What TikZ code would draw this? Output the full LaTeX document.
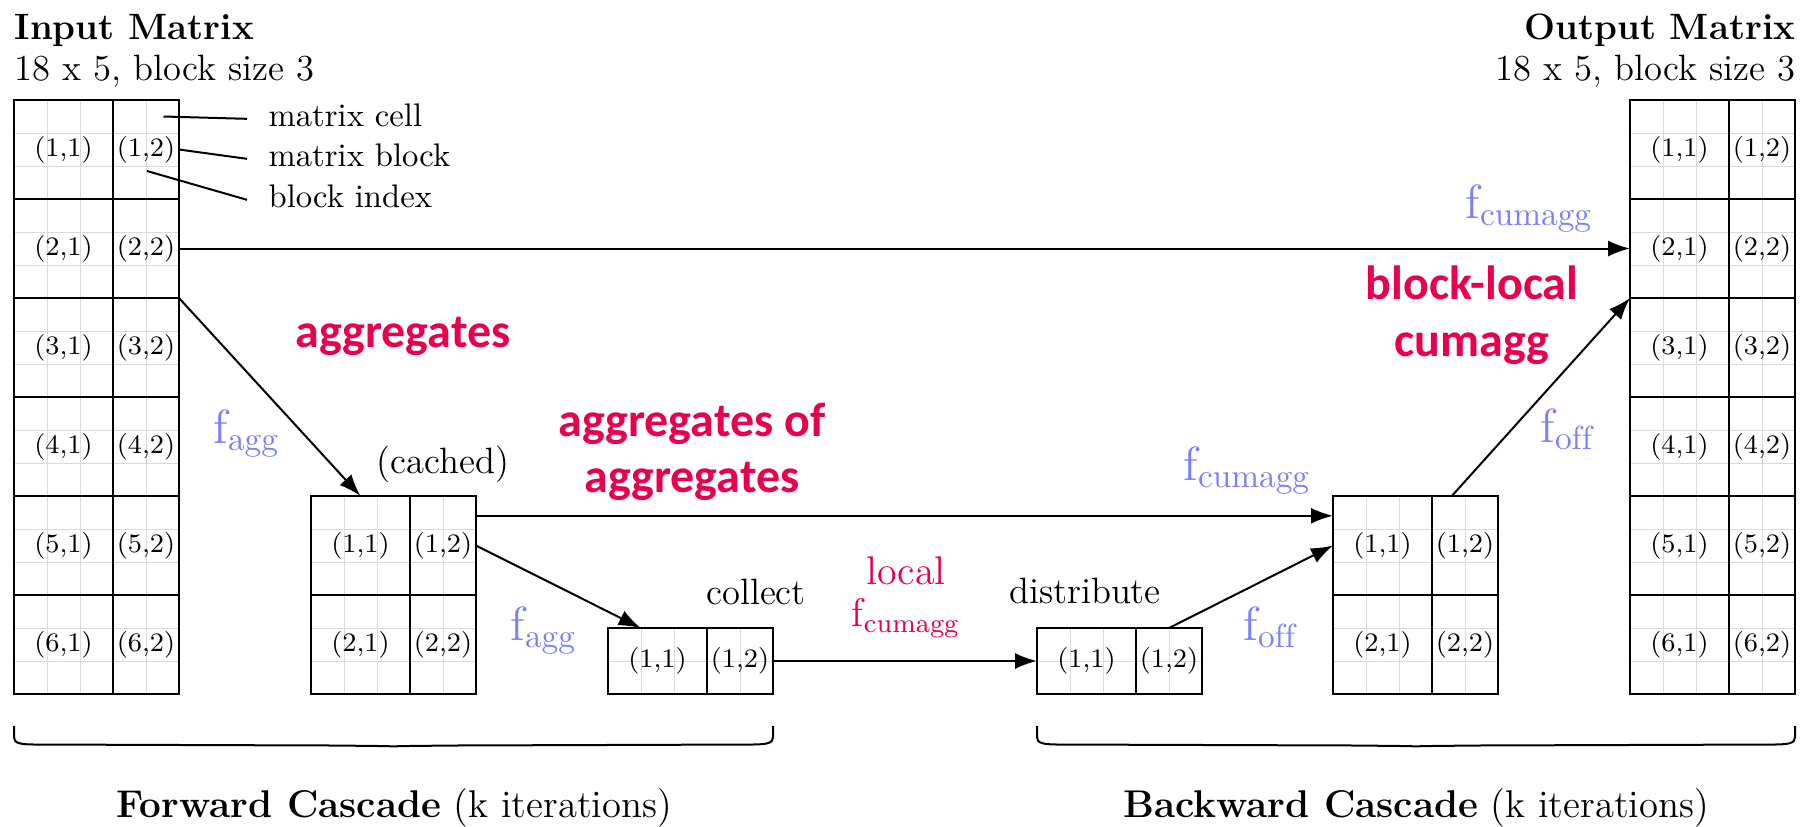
\documentclass[tikz,border=0pt]{standalone}
\usepackage{fontspec}
\newfontfamily\calibrifont{Carlito}
\usetikzlibrary{arrows.meta,calc}

\definecolor{fblue}{RGB}{122,128,250}
\definecolor{hotred}{RGB}{232,0,78}
\definecolor{gridgray}{RGB}{218,218,218}

\tikzset{
  gridline/.style={draw=gridgray, line width=0.3pt},
  blk/.style={draw=black, line width=0.6pt, inner sep=0pt, outer sep=0pt,
    font=\fontsize{8}{10}\selectfont},
  conn/.style={draw=black, line width=0.6pt, -{Latex[length=6.6pt,width=4.8pt]}},
  legline/.style={draw=black, line width=0.6pt},
  plain/.style={inner sep=0pt, font=\fontsize{11}{13}\selectfont},
  caption/.style={inner sep=0pt, font=\fontsize{11.6}{13}\selectfont},
  legendtext/.style={inner xsep=6.3pt, inner ysep=0pt, text height=1ex, text depth=0pt,
    font=\fontsize{9.8}{12}\selectfont},
  flab/.style={inner sep=0pt, text=fblue, font=\fontsize{14.4}{17}\selectfont},
  redlab/.style={inner sep=0pt, text=hotred, align=center,
    font=\calibrifont\bfseries\fontsize{14.4}{17}\selectfont},
  redmath/.style={inner sep=0pt, text=hotred, align=center,
    font=\fontsize{12}{12.6}\selectfont},
  bracestyle/.style={draw=black, line width=0.6pt},
}

% Block matrix: #1 name, #2 left x, #3 top y, #4 cell rows per block, #5 block rows.
% Columns: 5 cells of 33 units, split into blocks of 3 and 2 cells.
\newcommand{\blockmat}[5]{%
  \pgfmathsetmacro{\matHt}{33*#4*#5}%
  \pgfmathtruncatemacro{\nlines}{#4*#5-1}%
  \pgfmathsetmacro{\blkht}{9.9*#4}%
  \foreach \k in {1,2,3,4} {
    \draw[gridline] ({#2+33*\k},#3) -- ({#2+33*\k},{#3+\matHt});
  }
  \foreach \k in {1,...,\nlines} {
    \draw[gridline] (#2,{#3+33*\k}) -- ({#2+165},{#3+33*\k});
  }
  \foreach \mr in {1,...,#5} {
    \node[blk, minimum width=29.7pt, minimum height=\blkht pt] (#1-\mr-1)
      at ({#2+49.5},{#3+33*#4*(\mr-0.5)}) {(\mr,1)};
    \node[blk, minimum width=19.8pt, minimum height=\blkht pt] (#1-\mr-2)
      at ({#2+132},{#3+33*#4*(\mr-0.5)}) {(\mr,2)};
  }
}

% Wide flat brace under a cascade, from x=#1 to x=#2
\newcommand{\cascadebrace}[2]{%
  \pgfmathsetmacro{\bmid}{(#1+#2)/2}%
  \draw[bracestyle] (#1,726) -- (#1,737)
    .. controls (#1,743) and ({#1+5},744.5) .. ({#1+22},744.5)
    -- ({\bmid-60},745.5)
    .. controls ({\bmid-15},746) and ({\bmid-4},746) .. (\bmid,746.5)
    .. controls ({\bmid+4},746) and ({\bmid+15},746) .. ({\bmid+60},745.5)
    -- ({#2-22},744.5)
    .. controls ({#2-5},744.5) and (#2,743) .. (#2,737) -- (#2,726);
}

\begin{document}
\begin{tikzpicture}[x=0.3pt,y=-0.3pt]
\useasboundingbox (0,0) rectangle (1801,826);

% matrices
\blockmat{in}{14}{100}{3}{6}
\blockmat{cache}{311}{496}{3}{2}
\blockmat{coll}{608}{628}{2}{1}
\blockmat{dist}{1037}{628}{2}{1}
\blockmat{bcache}{1333}{496}{3}{2}
\blockmat{out}{1630}{100}{3}{6}

% titles
\node[plain, anchor=base west] (in-title) at (14,39) {\textbf{Input Matrix}};
\node[plain, anchor=base west] (in-size) at (14,80) {18 x 5, block size 3};
\node[plain, anchor=base east] (out-title) at (1796,39) {\textbf{Output Matrix}};
\node[plain, anchor=base east] (out-size) at (1796,80) {18 x 5, block size 3};

% legend
\coordinate (cellpt) at (163.5,116.5);
\coordinate (idxpt) at (147,171);
\node[legendtext, anchor=base west] (leg-cell) at (247,126) {matrix cell};
\node[legendtext, anchor=base west] (leg-block) at (247,166) {matrix block};
\node[legendtext, anchor=base west] (leg-index) at (247,207) {block index};
\draw[legline] (cellpt) -- (leg-cell.west);
\draw[legline] (in-1-2.east) -- (leg-block.west);
\draw[legline] (idxpt) -- (leg-index.west);

% stage captions
\node[plain, anchor=base] (lab-cached) at (443,473) {(cached)};
\node[plain, anchor=base] (lab-collect) at (756,604) {collect};
\node[plain, anchor=base] (lab-dist) at (1085,603) {distribute};

% connectors
\coordinate (coll-in) at ($(coll-1-1.north west)!0.33!(coll-1-1.north east)$);
\coordinate (cache-out) at ($(cache-1-2.north east)!0.2!(cache-1-2.south east)$);
\coordinate (bcache-in) at ($(bcache-1-1.north west)!0.2!(bcache-1-1.south west)$);
\coordinate (bcache-out) at ($(bcache-1-2.north west)!0.3!(bcache-1-2.north east)$);

\draw[conn] (in-2-2.east) -- (out-2-1.west);
\draw[conn] (in-2-2.south east) -- (cache-1-1.north);
\draw[conn] (cache-1-2.east) -- (coll-in);
\draw[conn] (cache-out) -- (bcache-in);
\draw[conn] (coll-1-2.east) -- (dist-1-1.west);
\draw[conn] (dist-1-2.north) -- (bcache-1-1.west);
\draw[conn] (bcache-out) -- (out-2-1.south west);

% function labels
\node[flab, anchor=base west] (f-agg-1) at (213,443) {$\mathrm{f}_{\mathrm{agg}}$};
\node[flab, anchor=base west] (f-agg-2) at (510,640) {$\mathrm{f}_{\mathrm{agg}}$};
\node[flab, anchor=base west] (f-cum-top) at (1465,218) {$\mathrm{f}_{\mathrm{cumagg}}$};
\node[flab, anchor=base west] (f-cum-mid) at (1183,480) {$\mathrm{f}_{\mathrm{cumagg}}$};
\node[flab, anchor=base west] (f-off-1) at (1243,640) {$\mathrm{f}_{\mathrm{off}}$};
\node[flab, anchor=base west] (f-off-2) at (1540,442) {$\mathrm{f}_{\mathrm{off}}$};

% annotations
\node[redlab, anchor=base] (note-agg) at (403,347) {aggregates};
\node[redlab, anchor=center] (note-aggagg) at (692,452) {aggregates of\\aggregates};
\node[redlab, anchor=center] (note-blocal) at (1472,315) {block-local\\cumagg};
\node[redmath, anchor=center] (note-local) at (906,597) {local\\$\mathrm{f}_{\mathrm{cumagg}}$};

% cascade braces and captions
\cascadebrace{14}{773}
\cascadebrace{1037}{1795}
\node[caption, anchor=base] (lab-fwd) at (394,817) {\textbf{Forward Cascade} (k iterations)};
\node[caption, anchor=base] (lab-bwd) at (1416,817) {\textbf{Backward Cascade} (k iterations)};
\end{tikzpicture}
\end{document}
